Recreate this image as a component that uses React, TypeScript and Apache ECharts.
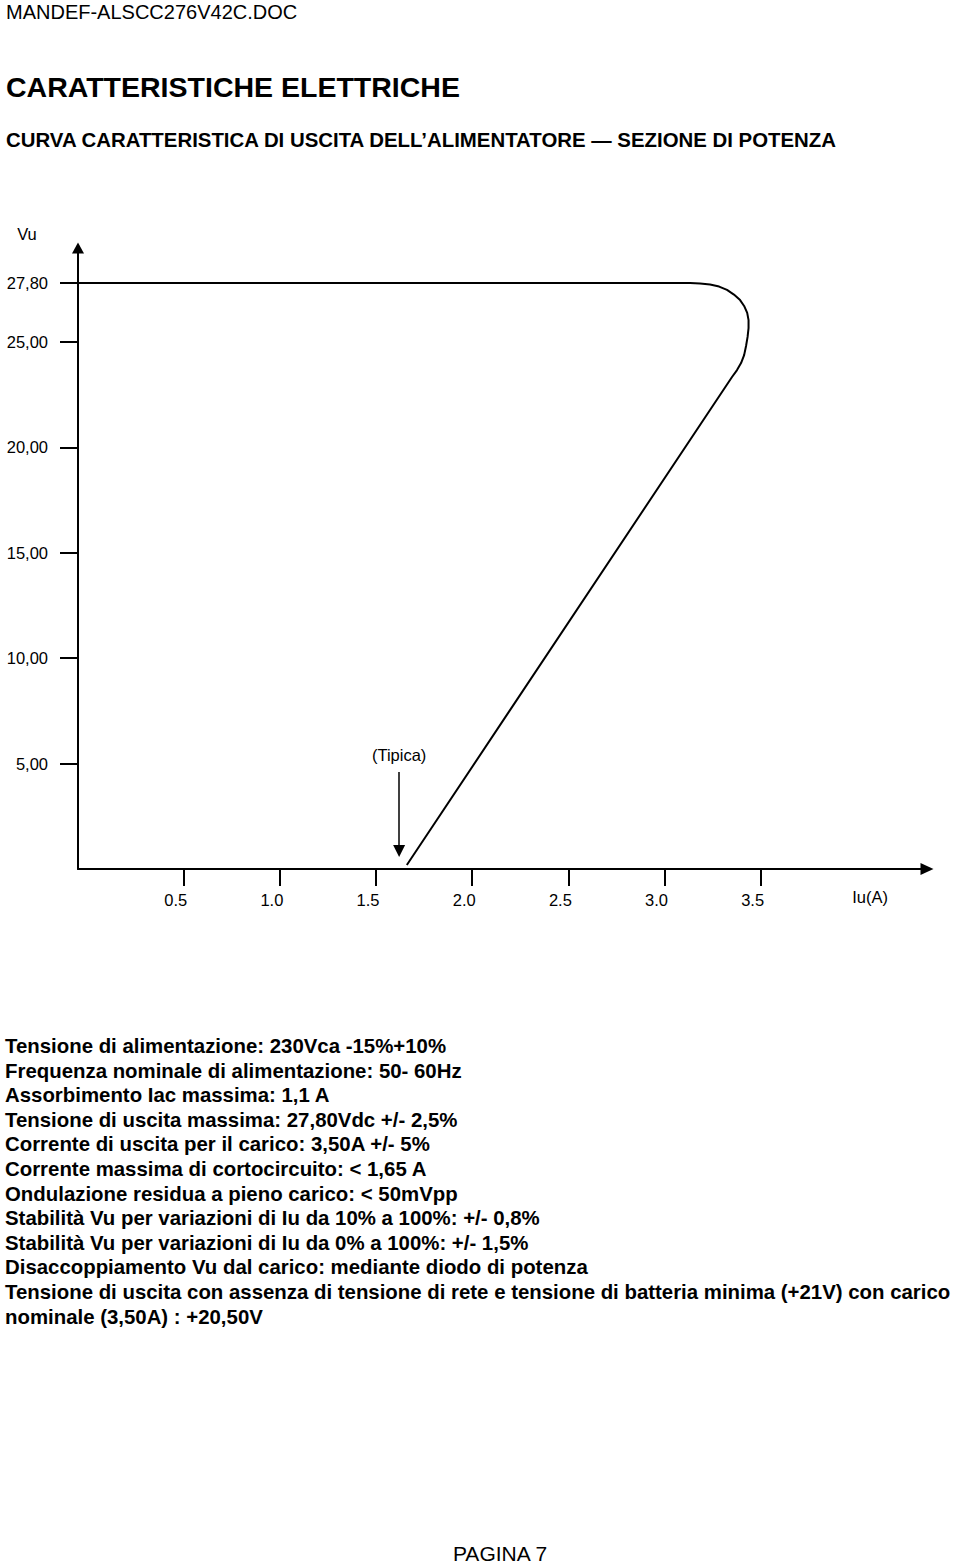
import React, { useEffect, useRef } from "react";
import * as echarts from "echarts";

// ---- data ----
const xTickValues = [0.5, 1.0, 1.5, 2.0, 2.5, 3.0, 3.5];
const yTickValues = [5, 10, 15, 20, 25, 27.8];
// output characteristic curve: current (A), voltage (V)
const curveIu = [-0.05, 3.133, 3.185, 3.237, 3.284, 3.325, 3.361, 3.393, 3.414, 3.43, 3.437, 3.437, 3.432, 3.424, 3.414, 3.398, 3.377, 3.351, 1.66];
const curveVu = [27.8, 27.8, 27.78, 27.73, 27.63, 27.47, 27.25, 26.99, 26.71, 26.38, 26.04, 25.66, 25.24, 24.81, 24.38, 24.0, 23.67, 23.34, 0.19];
// "typical" short-circuit marker (A) and its arrow span (V)
const typicalIu = 1.62;
const typicalVu = [4.6, 0.85];

const headerDoc = "MANDEF-ALSCC276V42C.DOC";
const title = "CARATTERISTICHE ELETTRICHE";
const subtitle = "CURVA CARATTERISTICA DI USCITA DELL\u2019ALIMENTATORE \u2014 SEZIONE DI POTENZA";
const specLines = [
  "Tensione di alimentazione: 230Vca -15%+10%",
  "Frequenza nominale di alimentazione: 50- 60Hz",
  "Assorbimento Iac massima: 1,1 A",
  "Tensione di uscita massima: 27,80Vdc +/- 2,5%",
  "Corrente di uscita per il carico: 3,50A +/- 5%",
  "Corrente massima di cortocircuito: < 1,65 A",
  "Ondulazione residua a pieno carico: < 50mVpp",
  "Stabilità Vu per variazioni di Iu da 10% a 100%: +/- 0,8%",
  "Stabilità Vu per variazioni di Iu da 0% a 100%: +/- 1,5%",
  "Disaccoppiamento Vu dal carico: mediante diodo di potenza",
  "Tensione di uscita con assenza di tensione di rete e tensione di batteria minima (+21V) con carico",
  "nominale (3,50A) : +20,50V",
];
const footer = "PAGINA 7";

const FONT = "'Liberation Sans', Arial, Helvetica, sans-serif";

export default function App() {
  const ref = useRef<HTMLDivElement>(null);
  useEffect(() => {
    if (!ref.current) return;
    const chart = echarts.init(ref.current, undefined, { renderer: "svg" });
    const curve = curveIu.map((x, i) => [x, curveVu[i]]);

    const graphics: any[] = [
      { type: "text", left: 6, top: 2, style: { text: headerDoc, font: `20px ${FONT}`, fill: "#000" } },
      { type: "text", left: 6, top: 72, style: { text: title, font: `bold 28.5px ${FONT}`, fill: "#000" } },
      { type: "text", left: 6, top: 130, style: { text: subtitle, font: `bold 20.4px ${FONT}`, fill: "#000" } },
      { type: "text", x: 27, y: 234, style: { text: "Vu", font: `16.5px ${FONT}`, fill: "#000", align: "center", verticalAlign: "middle" } },
      { type: "text", x: 870, y: 897, style: { text: "Iu(A)", font: `16.5px ${FONT}`, fill: "#000", align: "center", verticalAlign: "middle" } },
      { type: "text", x: 500, y: 1553, style: { text: footer, font: `21px ${FONT}`, fill: "#000", align: "center", verticalAlign: "middle" } },
    ];
    specLines.forEach((line, i) => {
      graphics.push({
        type: "text",
        x: 5,
        y: 1046 + i * 24.6,
        style: { text: line, font: `bold 20.4px ${FONT}`, fill: "#000", verticalAlign: "middle" },
      });
    });

    chart.setOption({
      animation: false,
      backgroundColor: "#fff",
      grid: { left: 78, right: 33, top: 248, bottom: 694, containLabel: false },
      xAxis: {
        type: "value",
        min: -0.05,
        max: 4.365,
        splitLine: { show: false },
        axisLine: {
          show: true,
          onZero: false,
          symbol: ["none", "triangle"],
          symbolSize: [12, 13],
          lineStyle: { color: "#000", width: 2 },
        },
        axisTick: {
          show: true,
          inside: false,
          length: 17,
          customValues: xTickValues,
          lineStyle: { color: "#000", width: 2 },
        },
        axisLabel: {
          show: true,
          customValues: xTickValues,
          margin: 22,
          color: "#000",
          fontFamily: FONT,
          fontSize: 16.5,
          padding: [0, 16, 0, 0],
          formatter: (v: number) => v.toFixed(1),
        },
      },
      yAxis: {
        type: "value",
        min: 0,
        max: 29.46,
        splitLine: { show: false },
        axisLine: {
          show: true,
          onZero: false,
          symbol: ["none", "triangle"],
          symbolSize: [12, 11],
          lineStyle: { color: "#000", width: 2 },
        },
        axisTick: {
          show: true,
          inside: false,
          length: 18,
          customValues: yTickValues,
          lineStyle: { color: "#000", width: 2 },
        },
        axisLabel: {
          show: true,
          customValues: yTickValues,
          margin: 30,
          color: "#000",
          fontFamily: FONT,
          fontSize: 16.5,
          formatter: (v: number) => v.toFixed(2).replace(".", ","),
        },
      },
      series: [
        {
          type: "line",
          data: curve,
          showSymbol: false,
          symbol: "none",
          smooth: false,
          lineStyle: { color: "#000", width: 2, join: "round" },
          silent: true,
          markLine: {
            silent: true,
            symbol: ["none", "triangle"],
            symbolSize: [12, 12],
            lineStyle: { color: "#000", width: 1.5, type: "solid" },
            label: {
              show: true,
              position: "start",
              distance: 9,
              formatter: "(Tipica)",
              color: "#000",
              fontFamily: FONT,
              fontSize: 16.5,
            },
            data: [[{ coord: [typicalIu, typicalVu[0]] }, { coord: [typicalIu, typicalVu[1]] }]],
          },
        },
      ],
      graphic: graphics,
    });
    return () => chart.dispose();
  }, []);
  return <div ref={ref} style={{ position: "absolute", left: 0, top: 0, width: 960, height: 1563 }} />;
}
